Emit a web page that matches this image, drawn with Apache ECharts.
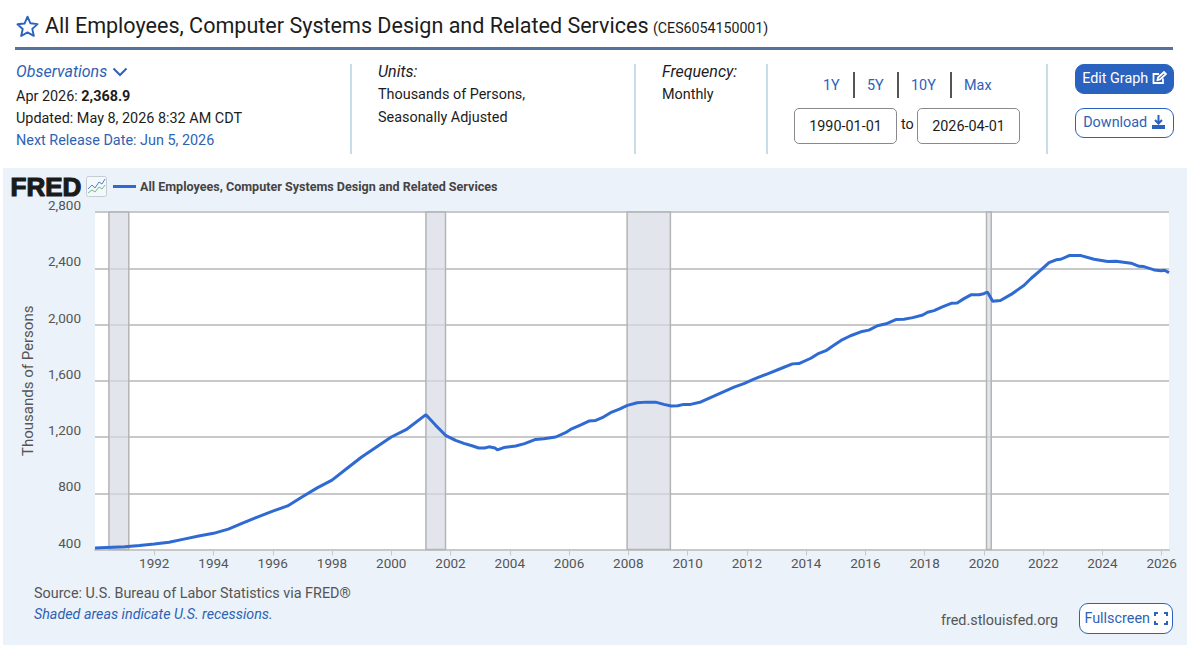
<!DOCTYPE html>
<html><head><meta charset="utf-8">
<script src="https://cdn.jsdelivr.net/npm/echarts@6/dist/echarts.min.js"></script>
<style>
html,body{margin:0;padding:0;background:#fff;width:1200px;height:652px;overflow:hidden;font-family:Roboto,sans-serif;color:#1c1c1c}
.t{position:absolute;white-space:nowrap;line-height:20px;font-size:14.4px}
.b{color:#2e62b5}.i{font-style:italic;font-size:16px}
.d{position:absolute;top:64px;height:90px;width:2px;background:#c9dde8}
.s{position:absolute;top:72px;height:26px;width:2px;background:#555}
.box{position:absolute;top:108px;height:34px;width:101px;border:1px solid #8a8a8a;border-radius:5px;line-height:36px;text-align:center;font-size:14.4px;background:#fff}
.btn{position:absolute;left:1075px;width:97px;height:28px;border:1px solid #2a62c0;border-radius:9px;line-height:28px;font-size:14.4px;text-align:center;white-space:nowrap}
svg{position:absolute}
#c{position:absolute;left:3px;top:168px;width:1184px;height:477px}
</style></head><body>
<svg style="left:16px;top:15px" width="23" height="22" viewBox="0 0 24 23"><path d="M12 1.8l3.1 6.9 7.4.8-5.5 5 1.6 7.3L12 18.2 5.4 22l1.6-7.3-5.5-5 7.4-.8z" fill="none" stroke="#2a62c0" stroke-width="2" stroke-linejoin="round"/></svg>
<div class="t" style="left:45px;top:13px;font-size:21.55px;line-height:26px">All Employees, Computer Systems Design and Related Services</div>
<div class="t" style="left:653px;top:18px;font-size:14.2px">(CES6054150001)</div>
<div style="position:absolute;left:15px;top:47px;width:1158px;height:3px;background:#54749c"></div>

<div class="t b i" style="left:16px;top:62px">Observations</div>
<svg style="left:112px;top:67px" width="16" height="10" viewBox="0 0 16 10"><path d="M1.5 1.5L8 8l6.5-6.5" fill="none" stroke="#2e62b5" stroke-width="2"/></svg>
<div class="t" style="left:16px;top:87px">Apr 2026: <b>2,368.9</b></div>
<div class="t" style="left:16px;top:109px">Updated: May 8, 2026 8:32 AM CDT</div>
<div class="t b" style="left:16px;top:131px">Next Release Date: Jun 5, 2026</div>
<div class="d" style="left:350px"></div>
<div class="t i" style="left:378px;top:62px">Units:</div>
<div class="t" style="left:378px;top:85px">Thousands of Persons,</div>
<div class="t" style="left:378px;top:108px">Seasonally Adjusted</div>
<div class="d" style="left:634px"></div>
<div class="t i" style="left:662px;top:62px">Frequency:</div>
<div class="t" style="left:662px;top:85px">Monthly</div>
<div class="d" style="left:766px"></div>
<div class="t b" style="left:823px;top:76px">1Y</div><div class="s" style="left:853px"></div>
<div class="t b" style="left:867px;top:76px">5Y</div><div class="s" style="left:897px"></div>
<div class="t b" style="left:911px;top:76px">10Y</div><div class="s" style="left:950px"></div>
<div class="t b" style="left:964px;top:76px">Max</div>
<div class="box" style="left:794px">1990-01-01</div>
<div class="t" style="left:901px;top:115px">to</div>
<div class="box" style="left:917px">2026-04-01</div>
<div class="d" style="left:1046px"></div>
<div class="btn" style="top:64px;background:#2a62c0;color:#fff">Edit Graph <svg style="position:static;vertical-align:-2px" width="15" height="14" viewBox="0 0 15 14"><path d="M11 7.5V12H1.5V3H7M5.5 9l.5-2.5L12 1l2 2-6 5.5z" fill="none" stroke="#fff" stroke-width="1.8"/></svg></div>
<div class="btn" style="top:108px;background:#fff;color:#2e62b5">Download <svg style="position:static;vertical-align:-2px" width="15" height="14" viewBox="0 0 15 14"><path d="M7.5 0v8M4 5l3.5 3.5L11 5" fill="none" stroke="#2a62c0" stroke-width="2"/><path d="M1 10h13v4H1z" fill="#2a62c0"/></svg></div>

<div id="c"></div>
<svg style="left:86px;top:176px" width="21" height="21" viewBox="0 0 21 21"><rect x=".5" y=".5" width="20" height="20" rx="2" fill="#f4f7fb" stroke="#c4ccd4"/><path d="M2 13l4-4 3 3 4-6 3 2 3-5" fill="none" stroke="#4a86c8"/><path d="M2 17l4-3 3 2 4-5 3 2 3-4" fill="none" stroke="#7cba8c"/></svg>
<div class="btn" style="left:1079px;top:603px;width:92px;height:29px;background:#fff;color:#2e62b5;line-height:29px">Fullscreen <svg style="position:static;vertical-align:-2px" width="14" height="13" viewBox="0 0 14 13"><path d="M1 4V1h3M10 1h3v3M13 9v3h-3M4 12H1V9" fill="none" stroke="#2a62c0" stroke-width="2"/></svg></div>

<script>
const seriesName = 'All Employees, Computer Systems Design and Related Services';
const years = [1990,1990.6,1991,1991.5,1992,1992.5,1993,1993.5,1994,1994.5,1995,1995.5,1996,1996.5,1997,1997.5,1998,1998.5,1999,1999.5,2000,2000.5,2001.17,2001.5,2001.83,2002.17,2002.45,2002.75,2002.95,2003.15,2003.3,2003.5,2003.58,2003.8,2004.2,2004.5,2004.87,2005.15,2005.55,2005.88,2006.05,2006.4,2006.67,2006.9,2007.12,2007.4,2007.7,2007.97,2008.3,2008.6,2008.92,2009.2,2009.45,2009.67,2009.87,2010.1,2010.45,2011,2011.57,2011.9,2012.24,2012.7,2013.15,2013.54,2013.76,2014.16,2014.39,2014.67,2014.95,2015.18,2015.5,2015.85,2016.12,2016.41,2016.7,2017.03,2017.3,2017.6,2017.94,2018.1,2018.32,2018.6,2018.9,2019.1,2019.33,2019.58,2019.84,2020,2020.12,2020.18,2020.3,2020.56,2020.92,2021.36,2021.6,2021.93,2022.2,2022.44,2022.6,2022.88,2023.28,2023.72,2024.18,2024.46,2024.97,2025.24,2025.4,2025.75,2025.98,2026.1,2026.25];
const employees = [410,416,420,428,439,451,474,496,515,545,590,632,673,710,775,838,893,976,1058,1129,1200,1252,1359,1283,1212,1176,1155,1136,1122,1122,1130,1122,1108,1125,1136,1153,1183,1188,1200,1231,1254,1287,1313,1318,1337,1373,1398,1425,1444,1448,1448,1432,1420,1422,1432,1432,1449,1501,1555,1579,1612,1649,1687,1720,1722,1760,1791,1814,1854,1887,1920,1948,1960,1991,2005,2035,2038,2049,2068,2087,2099,2125,2151,2153,2184,2212,2212,2219,2231,2209,2165,2171,2214,2279,2329,2388,2440,2460,2464,2490,2490,2464,2448,2450,2436,2414,2412,2388,2383,2386,2369];
const recessionStarts = [1990.47,2001.17,2007.96,2020.09];
const recessionEnds = [1991.14,2001.83,2009.42,2020.25];
const yMin = 400, yMax = 2800, yStep = 400, xMin = 1990, xMax = 2026.25, xStep = 2;
const yTitle = 'Thousands of Persons';
const sourceText = 'Source: U.S. Bureau of Labor Statistics via FRED®';
const noteText = 'Shaded areas indicate U.S. recessions.';
const siteText = 'fred.stlouisfed.org';

const chart = echarts.init(document.getElementById('c'), null, {renderer:'svg'});
chart.setOption({
  animation:false,
  backgroundColor:'#ebf2fa',
  textStyle:{fontFamily:'Roboto'},
  grid:{left:92,right:18,top:44,bottom:95.5,show:true,backgroundColor:'#fff',borderWidth:0},
  legend:{left:105,top:7,icon:'rect',itemWidth:23,itemHeight:3,itemGap:4,
    data:[seriesName],
    textStyle:{color:'#444',fontSize:12.55,fontWeight:'bold',fontFamily:'Roboto',padding:[0,0,0,-1]}},
  xAxis:{type:'value',min:xMin,max:xMax,interval:xStep,splitLine:{show:false},
    axisLine:{lineStyle:{color:'#c8c8c8',width:2}},
    axisTick:{length:6,lineStyle:{color:'#c8c8c8',width:1}},
    axisLabel:{color:'#555',fontSize:13.5,margin:6,showMaxLabel:false,showMinLabel:false,formatter:v=>String(v)}},
  yAxis:{type:'value',min:yMin,max:yMax,interval:yStep,
    name:yTitle,nameLocation:'middle',nameGap:60,nameTextStyle:{color:'#555',fontSize:15},
    axisLine:{show:false},axisTick:{show:false},
    splitLine:{lineStyle:{color:'#c8c8c8',width:2}},
    axisLabel:{color:'#555',fontSize:13.5,margin:14,verticalAlign:'bottom',
      formatter:v=>v.toLocaleString('en-US')}},
  series:[{name:seriesName,type:'line',showSymbol:false,
    data:years.map((y,i)=>[y,employees[i]]),
    lineStyle:{color:'#2f6ad2',width:3},itemStyle:{color:'#2f6ad2'},
    markArea:{silent:true,itemStyle:{color:'rgba(214,219,228,0.7)',borderColor:'#b4b4b4',borderWidth:1.5},
      data:recessionStarts.map((s,i)=>[{xAxis:s},{xAxis:recessionEnds[i]}])}}],
  graphic:[
    {type:'text',left:7,top:5,style:{text:'FRED',font:'bold 26px "Liberation Sans"',lineHeight:20,fill:'#1a1a1a',stroke:'#1a1a1a',lineWidth:1.2}},
    {type:'text',left:31,top:418,style:{text:sourceText,font:'14.36px Roboto',fill:'#555'}},
    {type:'text',left:31,top:439,style:{text:noteText,font:'italic 14.3px Roboto',fill:'#2e62b5'}},
    {type:'text',left:938,top:445,style:{text:siteText,font:'14.36px Roboto',fill:'#555'}}
  ]
});
</script>
</body></html>
